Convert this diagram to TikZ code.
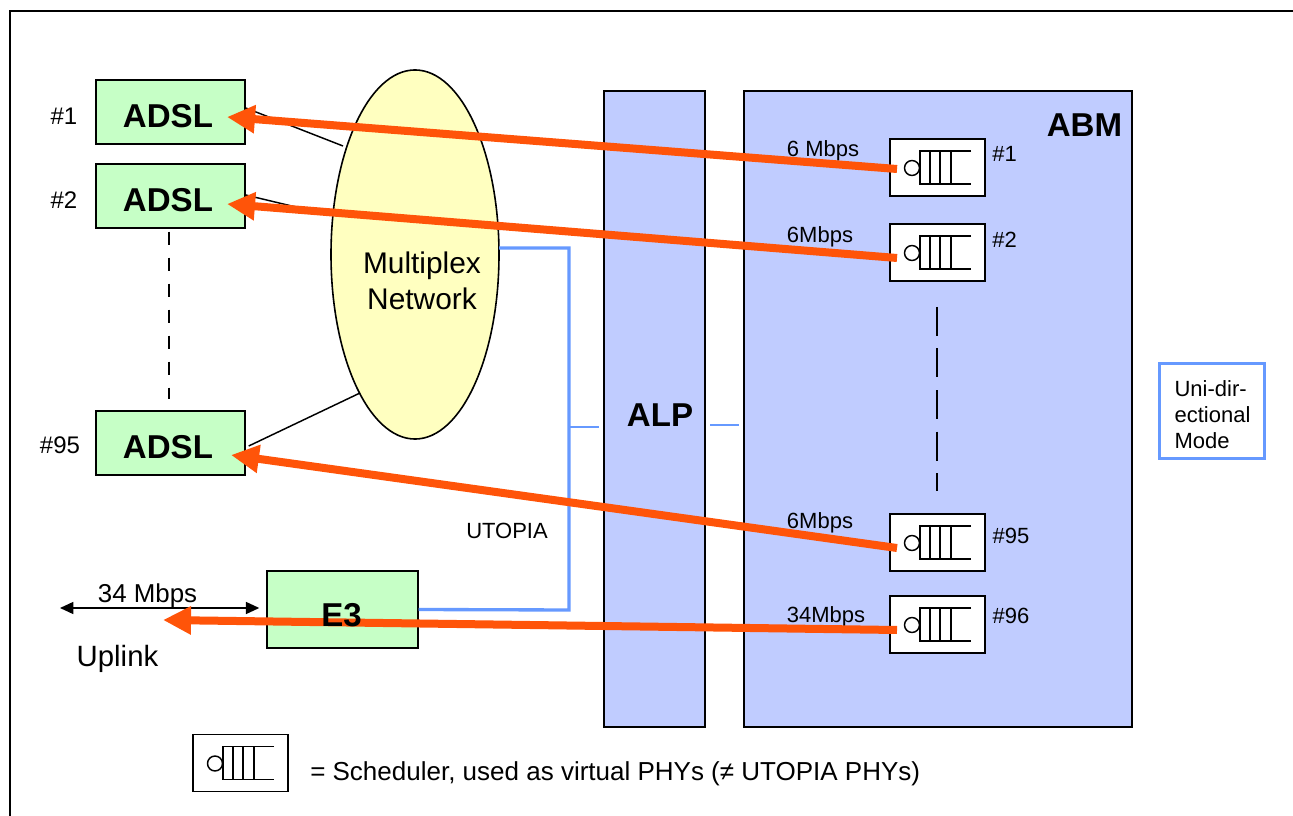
\documentclass[tikz,border=0pt]{standalone}
\usepackage{fontspec}
\setmainfont{Liberation Sans}
\usetikzlibrary{arrows.meta,calc}
\definecolor{grn}{HTML}{C6FFC6}
\definecolor{ylw}{HTML}{FFFFC0}
\definecolor{lav}{HTML}{C0CCFF}
\definecolor{blu}{HTML}{6699FF}
\definecolor{org}{HTML}{FF5409}
\newcommand{\fsz}[1]{\fontsize{#1}{#1}\selectfont}
\tikzset{
  x=0.75pt,y=-0.75pt,
  gbox/.style={draw=black,line width=1.1pt,fill=grn,inner sep=0pt},
  gtext/.style={inner sep=0pt,font=\fsz{24.8}\bfseries},
  panel/.style={draw=black,line width=1pt,fill=lav},
  lbl/.style={inner sep=0pt,font=\fsz{16.5}},
  wire/.style={draw=black,line width=1.1pt},
  bus/.style={draw=blu,line width=2.5pt},
  stub/.style={draw=blu,line width=1.5pt},
  flow/.style={draw=org,line width=6pt,-{Triangle[length=21pt,width=20pt,fill=org]}},
  schedbox/.style={draw=black,line width=1.2pt,fill=white,minimum width=71pt,minimum height=43pt,inner sep=0pt},
}
% queue symbol, relative to the centre of its box
\newcommand{\queue}[1]{%
  \draw[line width=1.1pt] ([shift={(-25.5,0.5)}]#1.center) circle[radius=5.6pt];
  \draw[line width=1.1pt] ([shift={(33.5,-16.5)}]#1.center) -- ([shift={(-17.5,-16.5)}]#1.center)
    -- ([shift={(-17.5,16.5)}]#1.center) -- ([shift={(33.5,16.5)}]#1.center);
  \draw[line width=1.1pt] ([shift={(-7.5,-16.5)}]#1.center) -- ([shift={(-7.5,16.5)}]#1.center);
  \draw[line width=1.1pt] ([shift={(2.5,-16.5)}]#1.center) -- ([shift={(2.5,16.5)}]#1.center);
  \draw[line width=1.1pt] ([shift={(13.5,-16.5)}]#1.center) -- ([shift={(13.5,16.5)}]#1.center);
}
\begin{document}
\begin{tikzpicture}
\useasboundingbox (0,0) rectangle (1293,816);
\path[fill=white] (0,0) rectangle (1293,816);
% frame
\draw[line width=1.6pt] (10,816) -- (10,11) -- (1293,11);
% panels
\node[panel,minimum width=75.75pt,minimum height=477pt,inner sep=0pt] (alp) at (654.5,409) {};
\node[panel,minimum width=291pt,minimum height=477pt,inner sep=0pt] (abm) at (938,409) {};
\node[gtext] (alpt) at (660,415) {ALP};
\node[gtext] (abmt) at (1084.5,125) {ABM};
% ellipse
\draw[line width=1.2pt,fill=ylw] (415,254.5) ellipse[x radius=63pt,y radius=138.4pt];
\node[inner sep=0pt,align=center,font=\fsz{22.4}] (mux) at (422,281) {Multiplex\\[5pt]Network};
% ADSL boxes
\node[gbox,minimum width=111.75pt,minimum height=48pt] (a1) at (170.5,112) {};
\node[gbox,minimum width=111.75pt,minimum height=48pt] (a2) at (170.5,196) {};
\node[gbox,minimum width=111.75pt,minimum height=48pt] (a95) at (170.5,443) {};
\node[gbox,minimum width=113.25pt,minimum height=57.75pt] (e3) at (342.5,609.5) {};
\node[gtext] (a1t) at (168,116) {ADSL};
\node[gtext] (a2t) at (168,200) {ADSL};
\node[gtext] (a95t) at (168,447) {ADSL};
\node[lbl,font=\fsz{18}] (n1) at (64,116) {\#1};
\node[lbl,font=\fsz{18}] (n2) at (64,200) {\#2};
\node[lbl,font=\fsz{18}] (n95) at (60,445) {\#95};
% black lines
\coordinate (m1) at (343,146);
\coordinate (m2) at (300,208);
\coordinate (m95) at (360,393);
\draw[wire] ($(a1.east)+(0,-4)$) -- (m1);
\draw[wire] ($(a2.east)+(0,-1)$) -- (m2);
\draw[wire] ($(a95.east)+(3,3)$) -- (m95);
\draw[draw=black,line width=1.5pt,dash pattern=on 10pt off 9.5pt] ($(a2.south)+(-1.5,3)$) -- ($(a95.north)+(-1.5,-11)$);
% buses
\coordinate (j1) at (569,248);
\coordinate (j2) at (569,610);
\coordinate (j3) at (569,427);
\coordinate (busA) at (499,248);
\draw[bus] (busA) -- (j1) -- (j2) -- (e3.east);
\draw[stub] (j3) -- ($(alp.west |- j3)+(-4,0)$);
\coordinate (b1) at (710,425);
\coordinate (b2) at (739,425);
\draw[stub] (b1) -- (b2);
\node[lbl] (uto) at (507,531) {UTOPIA};
% schedulers
\node[schedbox] (s1) at (937.5,167.5) {};
\node[schedbox] (s2) at (937.5,252.5) {};
\node[schedbox] (s95) at (937.5,542.5) {};
\node[schedbox] (s96) at (937.5,624.5) {};
\node[schedbox] (sl) at (240.5,763) {};
\queue{s1}\queue{s2}\queue{s95}\queue{s96}\queue{sl}
\draw[draw=black,line width=1.5pt,dash pattern=on 21.75pt off 9.4pt] ($(s2.south)+(-0.5,25)$) -- ($(s95.north)+(-0.5,-22)$);
\node[lbl] (r1) at (823,150.5) {6 Mbps};
\node[lbl] (r2) at (820,237) {6Mbps};
\node[lbl] (r95) at (820,523) {6Mbps};
\node[lbl] (r96) at (826,617) {34Mbps};
\node[lbl] (q1) at (1004.5,154) {\#1};
\node[lbl] (q2) at (1004.5,240) {\#2};
\node[lbl] (q95) at (1011,536) {\#95};
\node[lbl] (q96) at (1011,616) {\#96};
% uplink
\coordinate (u1) at (60,608);
\draw[line width=1.1pt,{Triangle[length=10pt,width=9pt]}-{Triangle[length=10pt,width=9pt]}] (u1) -- ($(e3.west |- u1)+(-7,0)$);
\node[lbl,font=\fsz{19.4}] (r34) at (147.5,595.5) {34 Mbps};
\node[lbl,font=\fsz{22}] (upl) at (117.5,659) {Uplink};
% orange flows
\coordinate (f1) at (897,169);
\coordinate (f2) at (897,258);
\coordinate (f95) at (897,548);
\coordinate (f96) at (897,630);
\coordinate (t1) at (227,117);
\coordinate (t2) at (227,204);
\coordinate (t95) at (231,455);
\coordinate (t96) at (163,620);
\draw[flow] (f1) -- (t1);
\draw[flow] (f2) -- (t2);
\draw[flow] (f95) -- (t95);
\draw[flow] (f96) -- (t96);
\node[gtext] (e3t) at (341.5,615) {E3};
% uni box
\node[draw=blu,line width=2.6pt,fill=white,minimum width=79pt,minimum height=71pt,inner sep=0pt] (uni) at (1212,411) {};
\node[inner sep=0pt,align=left,font=\fsz{16.5}] (unit) at (1212.5,415) {Uni-dir-\\[3pt]ectional\\[3pt]Mode};
% legend
\node[anchor=west,inner sep=0pt,font=\fsz{19.5}] (leg) at (310,773.5) {= Scheduler, used as virtual PHYs (≠ UTOPIA PHYs)};
\end{tikzpicture}
\end{document}
